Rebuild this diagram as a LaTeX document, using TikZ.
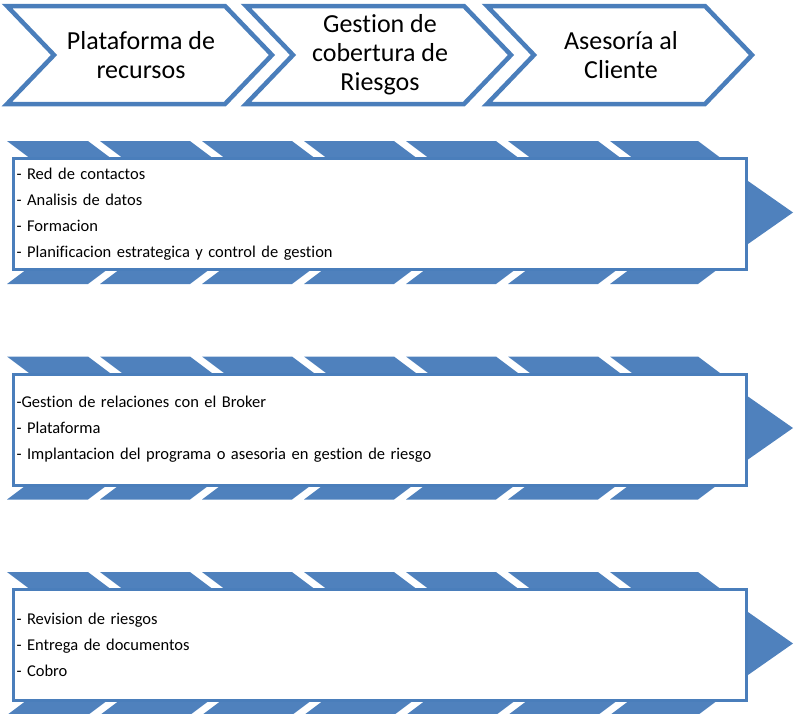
\documentclass[tikz,border=0pt]{standalone}
\usepackage{fontspec}
\setmainfont{Carlito}[Ligatures={NoCommon}]
\definecolor{bandblue}{HTML}{4F81BD}
\definecolor{lineblue}{HTML}{4A7EBB}
\begin{document}
\begin{tikzpicture}[x=1pt,y=-1pt,
  chev/.style={draw=lineblue, line width=4.5pt, fill=white},
  chevtext/.style={align=center, font=\fontsize{26}{29}\selectfont, text=black, inner sep=0pt},
  band/.style={fill=bandblue},
  boxnode/.style={draw=lineblue, line width=3pt, fill=white, rectangle,
    minimum height=111pt, inner xsep=3pt, inner ysep=0pt, text width=727pt,
    align=left, font=\fontsize{16.5}{26}\selectfont, anchor=north west, text=black}]
\useasboundingbox (0,0) rectangle (795,713);
% top chevrons
\foreach \x/\n/\t in {7/c1/{Plataforma de\\recursos}, 246/c2/{Gestion de\\cobertura de\\Riesgos}, 487/c3/{Asesoría al\\Cliente}} {
  \draw[chev] (\x,6) -- ++(218,0) -- ++(47,49) -- ++(-47,49) -- ++(-218,0) -- ++(47,-49) -- cycle;
  \node[chevtext] (\n) at (\x+134,55) {\t};
}
% striped arrows
\foreach \T/\n/\t in {141/b1/{- Red de contactos\\- Analisis de datos\\- Formacion\\- Planificacion estrategica y control de gestion},
                      356.5/b2/{-Gestion de relaciones con el Broker\\- Plataforma\\- Implantacion del programa o asesoria en gestion de riesgo},
                      572/b3/{- Revision de riesgos\\- Entrega de documentos\\- Cobro}} {
  \foreach \a/\b in {7/88,100/190,202/292,304/394,406/496,508/598,610/698} {
    \fill[band] (\a,\T) -- (\b,\T) -- (\b+22,\T+16.5) -- (\a+22,\T+16.5) -- cycle;
    \fill[band] (\a+22,\T+126.5) -- (\b+22,\T+126.5) -- (\b,\T+143) -- (\a,\T+143) -- cycle;
  }
  \fill[band] (743,\T+36.5) -- (793,\T+71.5) -- (743,\T+106.5) -- cycle;
  \node[boxnode] (\n) at (12,\T+16) {\t};
}
\end{tikzpicture}
\end{document}
